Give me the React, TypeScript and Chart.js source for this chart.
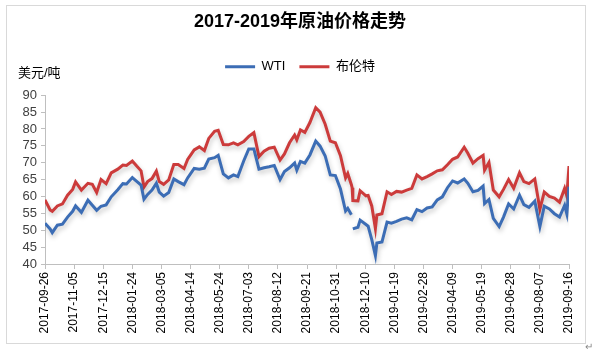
import React, { useEffect, useRef } from "react";
import { Chart, registerables } from "chart.js";

Chart.register(...registerables);

const dates = [
  "2017-09-26", "2017-10-03", "2017-10-06", "2017-10-13", "2017-10-20", "2017-10-27", "2017-11-03", "2017-11-07",
  "2017-11-15", "2017-11-24", "2017-11-30", "2017-12-06", "2017-12-12", "2017-12-19", "2017-12-26", "2018-01-04",
  "2018-01-11", "2018-01-16", "2018-01-24", "2018-01-30", "2018-02-05", "2018-02-09", "2018-02-14", "2018-02-20",
  "2018-02-26", "2018-03-02", "2018-03-08", "2018-03-15", "2018-03-22", "2018-03-28", "2018-04-05", "2018-04-10",
  "2018-04-19", "2018-04-26", "2018-05-03", "2018-05-09", "2018-05-17", "2018-05-22", "2018-05-29", "2018-06-05",
  "2018-06-12", "2018-06-18", "2018-06-26", "2018-07-03", "2018-07-10", "2018-07-17", "2018-07-24", "2018-07-31",
  "2018-08-07", "2018-08-15", "2018-08-21", "2018-08-28", "2018-09-04", "2018-09-07", "2018-09-12", "2018-09-18",
  "2018-09-25", "2018-10-03", "2018-10-09", "2018-10-16", "2018-10-23", "2018-10-30", "2018-11-06", "2018-11-13",
  "2018-11-16", "2018-11-21", "2018-11-22", "2018-11-23", "2018-11-30", "2018-12-03", "2018-12-11", "2018-12-14",
  "2018-12-19", "2018-12-24", "2018-12-26", "2019-01-02", "2019-01-09", "2019-01-15", "2019-01-22", "2019-01-29",
  "2019-02-05", "2019-02-12", "2019-02-19", "2019-02-26", "2019-03-05", "2019-03-12", "2019-03-19", "2019-03-26",
  "2019-04-02", "2019-04-09", "2019-04-16", "2019-04-25", "2019-04-30", "2019-05-07", "2019-05-14", "2019-05-21",
  "2019-05-23", "2019-05-29", "2019-06-04", "2019-06-12", "2019-06-18", "2019-06-25", "2019-07-02", "2019-07-10",
  "2019-07-16", "2019-07-23", "2019-07-31", "2019-08-07", "2019-08-13", "2019-08-20", "2019-08-27", "2019-09-03",
  "2019-09-10", "2019-09-13", "2019-09-16",
];

const wti = [
  52.1, 50.4, 49.3, 51.5, 51.8, 53.9, 55.6, 57.2,
  55.3, 58.9, 57.4, 55.9, 57.1, 57.5, 59.9, 62.0,
  63.8, 63.7, 65.6, 64.5, 63.4, 59.2, 60.6, 61.9,
  63.9, 61.3, 60.1, 61.2, 65.2, 64.4, 63.5, 65.5,
  68.3, 68.1, 68.4, 71.1, 71.5, 72.2, 66.7, 65.5,
  66.4, 65.9, 70.5, 74.1, 74.1, 68.1, 68.5, 68.8,
  69.2, 65.0, 67.4, 68.5, 69.9, 67.8, 70.4, 69.9,
  72.3, 76.4, 74.9, 72.0, 66.4, 66.2, 62.2, 55.7,
  56.5, 54.6, null, 50.4, 50.9, 53.0, 51.7, 51.2,
  47.2, 42.5, 46.2, 46.5, 52.4, 52.1, 52.6, 53.3,
  53.7, 53.1, 56.1, 55.5, 56.6, 56.9, 59.0, 59.9,
  62.6, 64.6, 64.0, 65.2, 63.9, 61.4, 61.8, 63.1,
  57.9, 59.1, 53.5, 51.1, 53.9, 57.8, 56.3, 60.4,
  57.6, 56.8, 58.6, 51.1, 57.1, 56.3, 54.9, 53.9,
  57.4, 54.9, 62.9,
];

const brent = [
  59.0, 56.0, 55.6, 57.2, 57.8, 60.4, 62.1, 64.3,
  61.9, 63.9, 63.6, 61.2, 65.0, 63.8, 67.0, 68.1,
  69.3, 69.2, 70.5, 69.0, 67.6, 62.8, 64.4, 65.3,
  67.5, 64.4, 63.6, 64.9, 69.5, 69.5, 68.3, 71.0,
  73.8, 74.7, 73.6, 77.2, 79.3, 79.6, 75.4, 75.3,
  75.9, 75.3, 76.3, 77.8, 78.9, 71.8, 73.4, 74.3,
  74.6, 70.8, 72.6, 75.9, 78.2, 76.8, 79.7, 79.0,
  81.9, 86.3, 85.0, 81.4, 76.4, 75.9, 72.1, 65.5,
  66.8, 63.5, 62.6, 58.8, 58.7, 61.7, 60.2, 60.3,
  57.2, 50.5, 54.5, 54.9, 61.4, 60.6, 61.5, 61.3,
  61.9, 62.4, 66.4, 65.2, 65.9, 66.7, 67.6, 67.9,
  69.4, 71.0, 71.7, 74.6, 72.8, 69.9, 71.2, 72.2,
  67.8, 70.1, 61.9, 59.9, 62.1, 65.0, 62.4, 67.0,
  64.4, 63.8, 65.2, 56.2, 61.3, 60.0, 59.5, 58.3,
  62.4, 60.2, 69.0,
];

const tickLabels = [
  "2017-09-26", "2017-11-05", "2017-12-15", "2018-01-24", "2018-03-05", "2018-04-14", "2018-05-24",
  "2018-07-03", "2018-08-12", "2018-09-21", "2018-10-31", "2018-12-10", "2019-01-19", "2019-02-28",
  "2019-04-09", "2019-05-19", "2019-06-28", "2019-08-07", "2019-09-16",
];

const seriesNames = ["WTI", "布伦特"];
const title = "2017-2019年原油价格走势";
const unitLabel = "美元/吨";

const START = Date.UTC(2017, 8, 26);
const dayOf = (s: string) => {
  const [y, m, d] = s.split("-").map(Number);
  return Math.round((Date.UTC(y, m - 1, d) - START) / 86400000);
};

const FONT = "'Liberation Sans', 'Noto Sans CJK SC', Arial, sans-serif";

export default function App() {
  const ref = useRef<HTMLCanvasElement>(null);

  useEffect(() => {
    document.body.style.margin = "0";
    const canvas = ref.current;
    if (!canvas) return;

    const shadow = {
      id: "lineShadow",
      beforeDatasetDraw(chart: any) {
        const c = chart.ctx;
        c.save();
        c.shadowColor = "rgba(0,0,0,0.22)";
        c.shadowBlur = 5;
        c.shadowOffsetX = 1;
        c.shadowOffsetY = 3;
      },
      afterDatasetDraw(chart: any) {
        chart.ctx.restore();
      },
    };

    const decor = {
      id: "decor",
      beforeDraw(chart: any) {
        const c = chart.ctx;
        c.save();
        c.fillStyle = "#ffffff";
        c.fillRect(0, 0, chart.width, chart.height);
        c.strokeStyle = "#d9d9d9";
        c.lineWidth = 1;
        c.strokeRect(6.5, 5.5, 579, 338);
        c.restore();
      },
      afterDraw(chart: any) {
        const c = chart.ctx;
        c.save();
        c.fillStyle = "#000000";
        c.font = `13px ${FONT}`;
        c.textBaseline = "middle";
        c.textAlign = "left";
        c.fillText(unitLabel, 18, 73);
        c.fillStyle = "#888888";
        c.font = `10px ${FONT}`;
        c.fillText("↵", 585, 347);
        c.restore();
      },
    };

    const chart = new Chart(canvas, {
      type: "line",
      data: {
        datasets: [
          {
            label: seriesNames[0],
            data: dates.map((d, i) => ({ x: dayOf(d), y: wti[i] })),
            borderColor: "#3C6DB5",
            backgroundColor: "#3C6DB5",
            borderWidth: 3,
            pointRadius: 0,
            tension: 0,
            spanGaps: false,
          },
          {
            label: seriesNames[1],
            data: dates.map((d, i) => ({ x: dayOf(d), y: brent[i] })),
            borderColor: "#CC3B3B",
            backgroundColor: "#CC3B3B",
            borderWidth: 3,
            pointRadius: 0,
            tension: 0,
          },
        ],
      },
      options: {
        responsive: false,
        animation: false,
        layout: { padding: { left: 8, right: 8, top: 0, bottom: 9 } },
        plugins: {
          title: {
            display: true,
            text: title,
            color: "#000000",
            font: { family: FONT, size: 18, weight: "bold" },
            padding: { top: 11.2, bottom: 13.4 },
          },
          subtitle: {
            display: true,
            text: "",
            weight: 500,
            font: { family: FONT, size: 10, lineHeight: 1 },
            padding: { top: 2, bottom: 0 },
          },
          legend: {
            display: true,
            position: "top",
            labels: {
              usePointStyle: true,
              pointStyle: "line",
              pointStyleWidth: 30,
              boxWidth: 30,
              boxHeight: 13,
              padding: 14,
              color: "#000000",
              font: { family: FONT, size: 13 },
            },
          },
          tooltip: { enabled: false },
        },
        scales: {
          x: {
            type: "linear",
            min: 0,
            max: dayOf(tickLabels[tickLabels.length - 1]),
            afterBuildTicks(scale: any) {
              scale.ticks = tickLabels.map((l) => ({ value: dayOf(l) }));
            },
            afterFit(scale: any) {
              scale.height = 80;
            },
            ticks: {
              autoSkip: false,
              minRotation: 90,
              maxRotation: 90,
              padding: 3,
              color: "#000000",
              font: { family: FONT, size: 12 },
              callback: (_v: any, i: number) => tickLabels[i],
            },
            grid: { drawOnChartArea: false, drawTicks: true, tickLength: 5, color: "#bfbfbf" },
            border: { display: true, color: "#bfbfbf" },
          },
          y: {
            min: 40,
            max: 90,
            afterFit(scale: any) {
              scale.width = 37;
            },
            ticks: {
              stepSize: 5,
              autoSkip: false,
              padding: 4,
              color: "#404040",
              font: { family: FONT, size: 13 },
            },
            grid: { drawOnChartArea: false, drawTicks: true, tickLength: 4, color: "#bfbfbf" },
            border: { display: true, color: "#bfbfbf" },
          },
          yRight: {
            position: "right",
            display: true,
            afterFit(scale: any) {
              scale.width = 23;
            },
            ticks: { display: false },
            grid: { display: false },
            border: { display: false },
          },
        },
      },
      plugins: [shadow, decor],
    });

    return () => chart.destroy();
  }, []);

  return (
    <div style={{ width: 600, height: 353 }}>
      <canvas ref={ref} width={600} height={353} style={{ display: "block" }} />
    </div>
  );
}
